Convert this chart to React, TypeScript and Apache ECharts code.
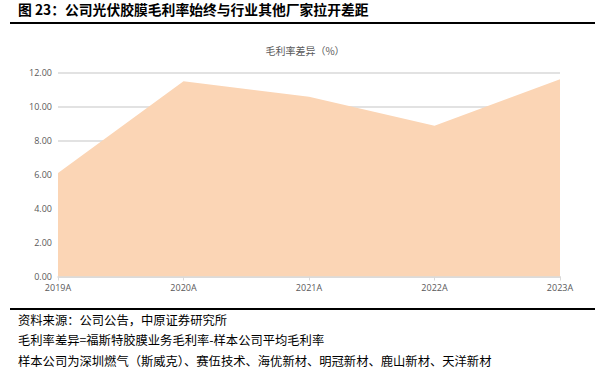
import React, { useEffect, useRef } from "react";
import * as echarts from "echarts";

const categories = ["2019A", "2020A", "2021A", "2022A", "2023A"];
const marginDiff = [6.1, 11.5, 10.58, 8.87, 11.62];
const titleText = "图 23：公司光伏胶膜毛利率始终与行业其他厂家拉开差距";
const chartTitle = "毛利率差异（%）";
const notes = [
  "资料来源：公司公告，中原证券研究所",
  "毛利率差异=福斯特胶膜业务毛利率-样本公司平均毛利率",
  "样本公司为深圳燃气（斯威克）、赛伍技术、海优新材、明冠新材、鹿山新材、天洋新材",
];

export default function App() {
  const ref = useRef<HTMLDivElement>(null);
  useEffect(() => {
    if (!ref.current) return;
    const chart = echarts.init(ref.current, null, { renderer: "svg" });
    const noteY = [322, 342, 363];
    chart.setOption({
      animation: false,
      backgroundColor: "#ffffff",
      title: {
        text: chartTitle,
        left: 300,
        textAlign: "center",
        top: 40,
        textStyle: { fontSize: 10, fontWeight: "normal", color: "#595959", fontFamily: "Noto Sans CJK SC" },
      },
      grid: { left: 58, right: 45, top: 72.7, bottom: 97.5, containLabel: false },
      xAxis: {
        type: "category",
        data: categories,
        boundaryGap: false,
        axisLine: { lineStyle: { color: "#d9d9d9", width: 1.5 } },
        axisTick: { show: true, alignWithLabel: true, lineStyle: { color: "#d9d9d9" }, length: 4 },
        axisLabel: { color: "#595959", fontSize: 9, fontFamily: "Open Sans", margin: 6 },
      },
      yAxis: {
        type: "value",
        min: 0,
        max: 12,
        interval: 2,
        axisLine: { show: false },
        axisTick: { show: false },
        axisLabel: {
          color: "#595959",
          fontSize: 9,
          fontFamily: "Open Sans",
          margin: 6,
          formatter: (v: number) => v.toFixed(2),
        },
        splitLine: { lineStyle: { color: "#d9d9d9", width: 1.5 } },
      },
      series: [
        {
          type: "line",
          data: marginDiff,
          symbol: "none",
          lineStyle: { width: 0 },
          areaStyle: { color: "#FBD5B5", opacity: 1 },
          z: 3,
        },
      ],
      graphic: [
        {
          type: "text",
          left: 18,
          top: 2,
          style: { text: titleText, fontSize: 13.8, fontWeight: "bold", fill: "#000", fontFamily: "Noto Sans CJK SC" },
        },
        { type: "rect", shape: { x: 10, y: 22, width: 585, height: 2 }, style: { fill: "#000" } },
        { type: "rect", shape: { x: 10, y: 308, width: 585, height: 2 }, style: { fill: "#000" } },
        ...notes.map((t, i) => ({
          type: "text",
          left: 18,
          top: noteY[i] - 8,
          style: { text: t, fontSize: 12.3, fill: "#000", fontFamily: "Noto Sans CJK SC" },
        })),
      ],
    });
    return () => chart.dispose();
  }, []);
  return <div ref={ref} style={{ width: 605, height: 374, position: "absolute", left: 0, top: 0 }} />;
}
